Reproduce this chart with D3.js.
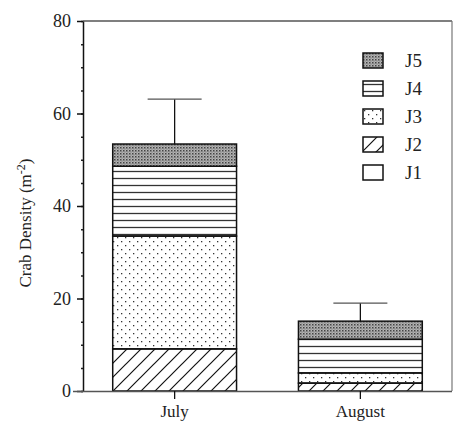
<!DOCTYPE html>
<html>
<head>
<meta charset="utf-8">
<script src="https://cdn.jsdelivr.net/npm/d3@7"></script>
<style>
  body { margin: 0; background: #fff; }
  text { font-family: "Liberation Serif", "DejaVu Serif", serif; fill: #222; }
</style>
</head>
<body>
<svg id="chart"></svg>
<script>
// values
const months = ["July", "August"];
const stages = ["J1", "J2", "J3", "J4", "J5"];
const j1 = [0, 0];
const j2 = [9.1, 1.7];
const j3 = [24.4, 2.2];
const j4 = [15.1, 7.3];
const j5 = [4.8, 3.9];
const se = [9.7, 3.9];
const yTicks = [0, 20, 40, 60, 80];

const width = 455, height = 428;
const margin = { top: 21, right: 3, bottom: 37, left: 83 };
const serif = "'Liberation Serif', 'Times New Roman', serif";

const svg = d3.select("#chart").attr("width", width).attr("height", height);

// build rows for the stack
const rows = months.map((m, i) => ({
  month: m, J1: j1[i], J2: j2[i], J3: j3[i], J4: j4[i], J5: j5[i], se: se[i]
}));
const series = d3.stack().keys(stages)(rows);

const x = d3.scaleBand()
  .domain(months)
  .range([margin.left, width - margin.right])
  .paddingInner(1 / 3)
  .paddingOuter(0.16);

const y = d3.scaleLinear()
  .domain([0, 80])
  .range([height - margin.bottom, margin.top]);

// fill patterns
const defs = svg.append("defs");

const p2 = defs.append("pattern").attr("id", "pJ2")
  .attr("patternUnits", "userSpaceOnUse").attr("width", 14).attr("height", 14);
p2.append("path").attr("d", "M-1,15 L15,-1 M-8,8 L8,-8 M6,22 L22,6")
  .attr("stroke", "#111").attr("stroke-width", 1.2);

const p3 = defs.append("pattern").attr("id", "pJ3")
  .attr("patternUnits", "userSpaceOnUse").attr("width", 8).attr("height", 8);
p3.append("rect").attr("x", 1).attr("y", 1).attr("width", 1.3).attr("height", 1.3).attr("fill", "#333");
p3.append("rect").attr("x", 5).attr("y", 5).attr("width", 1.3).attr("height", 1.3).attr("fill", "#333");

const p4 = defs.append("pattern").attr("id", "pJ4")
  .attr("patternUnits", "userSpaceOnUse").attr("width", 10).attr("height", 7);
p4.append("line").attr("x1", 0).attr("x2", 10).attr("y1", 3.5).attr("y2", 3.5)
  .attr("stroke", "#333").attr("stroke-width", 1.3);

const p5 = defs.append("pattern").attr("id", "pJ5")
  .attr("patternUnits", "userSpaceOnUse").attr("width", 3).attr("height", 3);
p5.append("rect").attr("width", 3).attr("height", 3).attr("fill", "#b4b4b4");
p5.append("rect").attr("width", 1.5).attr("height", 1.5).attr("fill", "#444");
p5.append("rect").attr("x", 1.5).attr("y", 1.5).attr("width", 1).attr("height", 1).attr("fill", "#666");

const fills = { J1: "#fff", J2: "url(#pJ2)", J3: "url(#pJ3)", J4: "url(#pJ4)", J5: "url(#pJ5)" };

// frame: top and right lines
svg.append("line")
  .attr("x1", margin.left).attr("x2", width - margin.right)
  .attr("y1", y(80)).attr("y2", y(80))
  .attr("stroke", "#555").attr("stroke-width", 1.3);
svg.append("line")
  .attr("x1", width - margin.right).attr("x2", width - margin.right)
  .attr("y1", y(80)).attr("y2", y(0))
  .attr("stroke", "#777").attr("stroke-width", 1.2);

// stacked bars
svg.append("g")
  .selectAll("g")
  .data(series)
  .join("g")
  .attr("fill", (d) => fills[d.key])
  .selectAll("rect")
  .data((d) => d)
  .join("rect")
  .attr("x", (d) => x(d.data.month))
  .attr("width", x.bandwidth())
  .attr("y", (d) => y(d[1]))
  .attr("height", (d) => y(d[0]) - y(d[1]))
  .attr("stroke", "#111")
  .attr("stroke-width", 1.5);

// error bars
const topLayer = series[series.length - 1];
const err = svg.append("g").selectAll("g").data(topLayer).join("g");
err.append("line")
  .attr("x1", (d) => x(d.data.month) + x.bandwidth() / 2)
  .attr("x2", (d) => x(d.data.month) + x.bandwidth() / 2)
  .attr("y1", (d) => y(d[1]))
  .attr("y2", (d) => y(d[1] + d.data.se))
  .attr("stroke", "#111").attr("stroke-width", 1.3);
err.append("line")
  .attr("x1", (d) => x(d.data.month) + x.bandwidth() / 2 - 27)
  .attr("x2", (d) => x(d.data.month) + x.bandwidth() / 2 + 27)
  .attr("y1", (d) => y(d[1] + d.data.se))
  .attr("y2", (d) => y(d[1] + d.data.se))
  .attr("stroke", "#555").attr("stroke-width", 1.3);

// y axis with minor ticks
const yMinor = svg.append("g")
  .attr("transform", `translate(${margin.left},0)`)
  .call(d3.axisLeft(y).ticks(16).tickSize(2).tickFormat(""));
yMinor.select(".domain").remove();
yMinor.selectAll("line").attr("stroke", "#222").attr("stroke-width", 1.5);

const yAxis = svg.append("g")
  .attr("transform", `translate(${margin.left},0)`)
  .call(d3.axisLeft(y).tickValues(yTicks).tickSize(6).tickSizeOuter(0).tickPadding(6))
  .attr("font-family", serif)
  .attr("font-size", 18);
yAxis.select(".domain").attr("stroke", "#111").attr("stroke-width", 1.5);
yAxis.selectAll(".tick line").attr("stroke", "#111").attr("stroke-width", 1.5);
yAxis.selectAll("text").attr("fill", "#333");

// x axis
const xAxis = svg.append("g")
  .attr("transform", `translate(0,${y(0)})`)
  .call(d3.axisBottom(x).tickSize(8).tickSizeOuter(0).tickPadding(6))
  .attr("font-family", serif)
  .attr("font-size", 17);
xAxis.select(".domain")
  .attr("d", `M${margin.left - 10},0.5H${width - margin.right}`)
  .attr("stroke", "#555").attr("stroke-width", 1.5);
xAxis.selectAll(".tick line").attr("stroke", "#111").attr("stroke-width", 1.3);
xAxis.selectAll("text").attr("fill", "#333");

// y title
const yTitle = svg.append("text")
  .attr("transform", `translate(31,${(y(0) + y(80)) / 2 + 17}) rotate(-90)`)
  .attr("text-anchor", "middle")
  .attr("font-family", serif)
  .attr("font-size", 17)
  .attr("fill", "#333");
yTitle.append("tspan").text("Crab Density (m");
yTitle.append("tspan").attr("dy", -6).attr("font-size", 12).text("-2");
yTitle.append("tspan").attr("dy", 6).text(")");

// legend, J5 on top
const legend = svg.append("g")
  .selectAll("g")
  .data(stages.slice().reverse())
  .join("g")
  .attr("transform", (d, i) => `translate(363,${53 + i * 28})`);
legend.append("rect")
  .attr("width", 20).attr("height", 15)
  .attr("fill", (d) => fills[d])
  .attr("stroke", "#111").attr("stroke-width", 1.5);
legend.append("text")
  .attr("x", 42).attr("y", 14)
  .attr("font-family", serif)
  .attr("font-size", 19)
  .attr("fill", "#333")
  .text((d) => d);
</script>
</body>
</html>
